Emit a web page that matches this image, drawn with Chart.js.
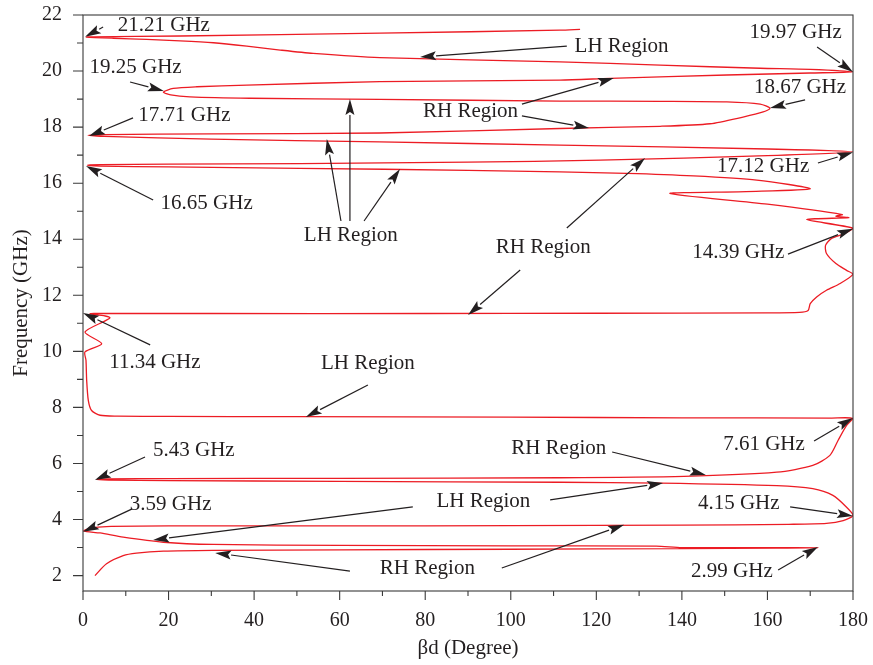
<!DOCTYPE html>
<html>
<head>
<meta charset="utf-8">
<script src="https://cdn.jsdelivr.net/npm/chart.js@4.4.1/dist/chart.umd.min.js"></script>
<style>
  html, body { margin: 0; padding: 0; background: #ffffff; }
  #wrap { width: 873px; height: 665px; }
</style>
</head>
<body>
<div id="wrap"><canvas id="chart" width="873" height="665"></canvas></div>
<script>
// Dispersion curve: phase per unit cell (degree) and frequency (GHz), in trace order
const betaD = [
  2.8, 5.5, 9.4, 12.5, 18.8, 30.4, 60, 100, 140, 162, 171.8,
  162, 140, 134, 100, 60, 30.4, 18.8, 9.4, 4, 0.2,
  2, 5.5, 20, 60, 100, 140, 165, 173.8, 177.7, 180,
  178.5, 175.3, 170.6, 162.2, 134.9, 111.5, 60, 20, 6, 3.2,
  6, 20, 60, 111.5, 140.5, 162.2, 170.6, 174.6, 176.5, 178.5, 180,
  175, 140, 100, 50, 20, 8, 4, 2, 1.24, 0.86, 0.7, 0.47, 4.37, 0.47, 6.3, 1.64,
  5, 30, 80, 120, 160, 167.5, 169.5, 170, 171.5, 173.8, 177, 180,
  178.5, 176, 173.8, 173.6, 175, 177.7, 180,
  169.2, 179, 176, 177.5, 160, 137.2, 155, 170,
  157.5, 142.7, 127.1, 111.5, 90, 50.7, 20, 4, 1.0,
  4, 20, 50.7, 90, 120.9, 160, 180,
  160, 111.5, 69.4, 30, 5, 1.2,
  5, 30, 69.4, 111.5, 134.9, 146.6, 154.3, 159, 160.6,
  158.3, 150.5, 134.9, 111.5, 69.4, 39, 25, 20.5, 18.8,
  21.1, 26.6, 38.3, 69.4, 111.5, 123.2, 150.5, 170, 180,
  170, 158.3, 134.9, 111.5, 69.4, 53.8, 46.1, 38.3, 30.5, 22.7, 14.9, 7.1, 0.8,
  2.4, 22.7, 69.4, 111.5, 116.2
];
const freqGHz = [
  2.00, 2.42, 2.71, 2.80, 2.87, 2.90, 2.92, 2.94, 2.96, 2.98, 2.99,
  3.00, 3.00, 3.05, 3.06, 3.08, 3.11, 3.19, 3.37, 3.52, 3.59,
  3.70, 3.75, 3.77, 3.775, 3.78, 3.80, 3.83, 3.86, 3.96, 4.15,
  4.44, 4.86, 5.10, 5.21, 5.30, 5.33, 5.36, 5.39, 5.41, 5.43,
  5.45, 5.46, 5.47, 5.49, 5.54, 5.69, 5.93, 6.29, 6.82, 7.36, 7.61,
  7.62, 7.63, 7.65, 7.67, 7.68, 7.69, 7.72, 7.89, 8.25, 8.96, 9.68, 9.98, 10.27, 10.69, 11.20, 11.34,
  11.35, 11.35, 11.35, 11.36, 11.37, 11.39, 11.46, 11.70, 11.94, 12.18, 12.42, 12.75,
  12.89, 13.13, 13.49, 13.79, 14.03, 14.18, 14.39,
  14.70, 14.77, 14.82, 14.88, 15.25, 15.63, 15.70, 15.80,
  16.11, 16.26, 16.35, 16.40, 16.46, 16.53, 16.58, 16.61, 16.65,
  16.665, 16.68, 16.70, 16.75, 16.82, 16.98, 17.12,
  17.22, 17.36, 17.47, 17.57, 17.67, 17.71,
  17.73, 17.76, 17.79, 17.95, 18.03, 18.12, 18.36, 18.54, 18.67,
  18.82, 18.90, 18.92, 18.93, 18.99, 19.03, 19.08, 19.15, 19.25,
  19.38, 19.44, 19.50, 19.62, 19.68, 19.74, 19.86, 19.93, 19.97,
  20.06, 20.10, 20.21, 20.33, 20.48, 20.63, 20.75, 20.89, 21.01, 21.08, 21.13, 21.17, 21.21,
  21.22, 21.25, 21.35, 21.46, 21.49
];

// Axis tick labels
const xTickValues = [0, 20, 40, 60, 80, 100, 120, 140, 160, 180];
const yTickValues = [2, 4, 6, 8, 10, 12, 14, 16, 18, 20, 22];
const xMinorTicks = [10, 30, 50, 70, 90, 110, 130, 150, 170];
const yMinorTicks = [3, 5, 7, 9, 11, 13, 15, 17, 19, 21];

// Callout texts, centred at (degree, GHz)
const noteText = [
  '21.21 GHz', 'LH Region', '19.97 GHz', '19.25 GHz', '18.67 GHz', 'RH Region',
  '17.71 GHz', 'LH Region', '16.65 GHz', '17.12 GHz', 'RH Region', '14.39 GHz',
  '11.34 GHz', 'LH Region', 'RH Region', '7.61 GHz', '5.43 GHz', 'LH Region',
  '3.59 GHz', '4.15 GHz', 'RH Region', '2.99 GHz'
];
const noteDeg = [
  18.9, 125.9, 166.6, 12.3, 167.6, 90.6,
  23.7, 62.6, 28.9, 159.0, 107.6, 153.2,
  16.8, 66.6, 111.2, 159.2, 25.9, 93.6,
  20.5, 153.3, 80.5, 151.7
];
const noteGHz = [
  21.61, 20.89, 21.39, 20.14, 19.40, 18.54,
  18.40, 14.15, 15.29, 16.58, 13.72, 13.51,
  9.62, 9.55, 6.55, 6.69, 6.45, 4.63,
  4.52, 4.59, 2.24, 2.16
];

// Callout arrows: tail (degree, GHz) -> head (degree, GHz)
const arrowFromDeg = [4.7, 113.1, 171.6, 11.0, 168.8, 102.6, 102.6, 11.7, 60.3, 62.4, 65.7, 16.4, 171.8,
  113.1, 102.2, 164.8, 15.7, 66.6, 123.7, 170.9, 14.5, 77.1, 109.2, 11.5, 165.3, 62.4, 97.9, 162.5];
const arrowFromGHz = [21.57, 20.89, 20.86, 19.61, 18.97, 18.82, 18.40, 18.33, 14.65, 14.65, 14.65, 15.40, 16.72,
  14.40, 12.90, 13.47, 10.23, 8.80, 6.41, 6.80, 6.23, 4.45, 4.70, 4.38, 4.45, 2.16, 2.27, 2.20];
const arrowToDeg = [0.5, 78.8, 180, 18.9, 160.6, 124.1, 118.3, 1.4, 57.0, 62.4, 74.1, 0.7, 180,
  131.4, 90.0, 180, 0, 52.1, 145.6, 180, 2.8, 16.4, 135.6, 0, 180, 30.9, 126.5, 171.8];
const arrowToGHz = [21.22, 20.50, 19.97, 19.29, 18.68, 19.75, 17.97, 17.68, 17.58, 19.0, 16.51, 16.61, 17.10,
  16.90, 11.30, 14.37, 11.37, 7.66, 5.59, 7.62, 5.41, 3.27, 5.30, 3.56, 4.13, 2.81, 3.81, 3.02];

const INK = '#231f20';
const SERIF = '"Liberation Serif", "Times New Roman", serif';

const curve = betaD.map((b, i) => ({ x: b, y: freqGHz[i] }));

// keep the plot box fixed: no extra room reserved for overhanging tick labels
function noOverhang(s) {
  s.paddingTop = 0; s.paddingBottom = 0; s.paddingLeft = 0; s.paddingRight = 0;
}

// Frame, tick marks and callouts
const decorations = {
  id: 'decorations',
  afterDatasetsDraw(chart) {
    const { ctx, chartArea: a, scales: { x, y } } = chart;
    ctx.save();
    ctx.strokeStyle = '#3a3a3a';
    ctx.lineWidth = 1.1;
    ctx.strokeRect(a.left, a.top, a.right - a.left, a.bottom - a.top);

    ctx.beginPath();
    xTickValues.forEach(v => { const p = x.getPixelForValue(v); ctx.moveTo(p, a.bottom); ctx.lineTo(p, a.bottom + 9); });
    xMinorTicks.forEach(v => { const p = x.getPixelForValue(v); ctx.moveTo(p, a.bottom); ctx.lineTo(p, a.bottom + 5); });
    yTickValues.forEach(v => { const p = y.getPixelForValue(v); ctx.moveTo(a.left, p); ctx.lineTo(a.left - 10, p); });
    yMinorTicks.forEach(v => { const p = y.getPixelForValue(v); ctx.moveTo(a.left, p); ctx.lineTo(a.left - 6, p); });
    ctx.stroke();

    // arrows
    ctx.strokeStyle = INK;
    ctx.fillStyle = INK;
    ctx.lineWidth = 1.2;
    const headLen = 16, headHalf = 4.5;
    arrowFromDeg.forEach((d, i) => {
      const x0 = x.getPixelForValue(d), y0 = y.getPixelForValue(arrowFromGHz[i]);
      const x1 = x.getPixelForValue(arrowToDeg[i]), y1 = y.getPixelForValue(arrowToGHz[i]);
      const ang = Math.atan2(y1 - y0, x1 - x0);
      const bx = x1 - Math.cos(ang) * headLen, by = y1 - Math.sin(ang) * headLen;
      ctx.beginPath();
      ctx.moveTo(x0, y0);
      ctx.lineTo(bx, by);
      ctx.stroke();
      ctx.beginPath();
      ctx.moveTo(x1, y1);
      ctx.lineTo(bx + Math.sin(ang) * headHalf, by - Math.cos(ang) * headHalf);
      ctx.lineTo(x1 - Math.cos(ang) * (headLen - 3), y1 - Math.sin(ang) * (headLen - 3));
      ctx.lineTo(bx - Math.sin(ang) * headHalf, by + Math.cos(ang) * headHalf);
      ctx.closePath();
      ctx.fill();
    });

    // callout texts
    ctx.font = '21px ' + SERIF;
    ctx.textAlign = 'center';
    ctx.textBaseline = 'middle';
    noteText.forEach((t, i) => {
      ctx.fillText(t, x.getPixelForValue(noteDeg[i]), y.getPixelForValue(noteGHz[i]));
    });
    ctx.restore();
  }
};

new Chart(document.getElementById('chart'), {
  type: 'scatter',
  data: {
    datasets: [{
      data: curve,
      showLine: true,
      borderColor: '#ec1c24',
      borderWidth: 1.3,
      pointRadius: 0,
      pointHoverRadius: 0,
      tension: 0.25,
      fill: false
    }]
  },
  options: {
    responsive: false,
    animation: false,
    events: [],
    layout: { padding: { top: 15, right: 20, left: 0, bottom: 0 } },
    plugins: { legend: { display: false }, tooltip: { enabled: false } },
    scales: {
      x: {
        type: 'linear',
        min: 0, max: 180,
        grid: { display: false, drawTicks: false },
        border: { display: false },
        afterBuildTicks: s => { s.ticks = xTickValues.map(v => ({ value: v })); },
        afterFit: s => { s.height = 74; noOverhang(s); },
        ticks: { color: INK, font: { family: SERIF, size: 20 }, padding: 18, maxRotation: 0 },
        title: { display: true, text: 'βd (Degree)', color: INK, font: { family: SERIF, size: 21, lineHeight: 1 }, padding: { top: 0, bottom: 6.5 } }
      },
      y: {
        type: 'linear',
        min: 1.45, max: 22,
        grid: { display: false, drawTicks: false },
        border: { display: false },
        afterBuildTicks: s => { s.ticks = yTickValues.map(v => ({ value: v })); },
        afterFit: s => { s.width = 83; noOverhang(s); },
        ticks: { color: INK, font: { family: SERIF, size: 20 }, padding: 21 },
        title: { display: true, text: 'Frequency (GHz)', color: INK, font: { family: SERIF, size: 21, lineHeight: 1 }, padding: { top: 10.5, bottom: 0 } }
      }
    }
  },
  plugins: [decorations]
});
</script>
</body>
</html>
